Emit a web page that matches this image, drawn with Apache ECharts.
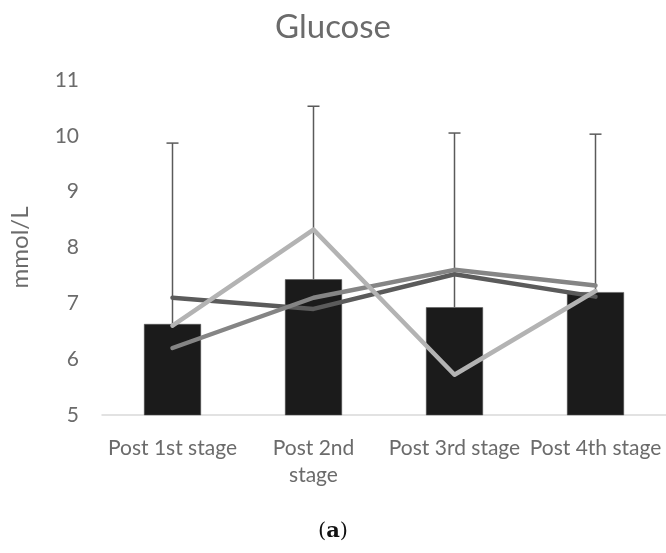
<!DOCTYPE html>
<html>
<head>
<meta charset="utf-8">
<script src="https://cdn.jsdelivr.net/npm/echarts@6/dist/echarts.min.js"></script>
<style>
  html, body { margin: 0; padding: 0; background: #fff; }
  #chart { width: 666px; height: 553px; }
</style>
</head>
<body>
<div id="chart"></div>
<script>
// Glucose after each stage: mean bars with upper SD whiskers, plus three individual traces
const categories = ['Post 1st stage', 'Post 2nd\nstage', 'Post 3rd stage', 'Post 4th stage'];
const meanValues = [6.63, 7.43, 6.93, 7.2];
const sdValues = [3.24, 3.1, 3.12, 2.83];
const traceA = [7.1, 6.9, 7.52, 7.12];
const traceB = [6.2, 7.1, 7.6, 7.32];
const traceC = [6.6, 8.32, 5.72, 7.22];
const yTicks = [5, 6, 7, 8, 9, 10, 11];

const textColor = '#6b6b6b';
const fontFamily = 'Lato, "Open Sans", sans-serif';

const chart = echarts.init(document.getElementById('chart'), null, { renderer: 'canvas' });

const errorData = meanValues.map((m, i) => [i, m, m + sdValues[i]]);

chart.setOption({
  animation: false,
  title: {
    text: 'Glucose',
    left: 'center',
    top: 6,
    textStyle: { color: textColor, fontFamily, fontSize: 33, fontWeight: 'normal' }
  },
  graphic: [{
    type: 'text',
    left: 'center',
    top: 521,
    style: {
      rich: {
        p: { fontFamily: '"DejaVu Serif", serif', fontSize: 21, fill: '#111' },
        b: { fontFamily: '"DejaVu Serif", serif', fontSize: 21, fontWeight: 'bold', fill: '#111' }
      },
      text: '{p|(}{b|a}{p|)}'
    }
  }],
  grid: { left: 95, right: 0, top: 80, bottom: 138 },
  xAxis: {
    type: 'category',
    data: categories,
    axisTick: { show: false },
    axisLine: { lineStyle: { color: '#d9d9d9', width: 1.5 } },
    axisLabel: { color: textColor, fontFamily, fontSize: 21, margin: 20, interval: 0, lineHeight: 27 }
  },
  yAxis: {
    type: 'value',
    min: yTicks[0],
    max: yTicks[yTicks.length - 1],
    interval: 1,
    name: 'mmol/L',
    nameLocation: 'middle',
    nameGap: 70,
    nameTextStyle: { color: textColor, fontFamily, fontSize: 24 },
    splitLine: { show: false },
    axisLine: { show: false },
    axisTick: { show: false },
    axisLabel: { color: textColor, fontFamily, fontSize: 21, margin: 23 }
  },
  series: [
    {
      type: 'bar',
      data: meanValues,
      barWidth: 57,
      itemStyle: { color: '#1b1b1b', borderColor: '#555', borderWidth: 0.5 },
      z: 1
    },
    {
      type: 'custom',
      data: errorData,
      z: 2,
      renderItem(params, api) {
        const x = api.coord([api.value(0), api.value(1)])[0];
        const yBase = api.coord([api.value(0), api.value(1)])[1];
        const yTop = api.coord([api.value(0), api.value(2)])[1];
        const style = { stroke: '#5a5a5a', lineWidth: 1.5 };
        return {
          type: 'group',
          children: [
            { type: 'line', shape: { x1: x, y1: yBase, x2: x, y2: yTop }, style },
            { type: 'line', shape: { x1: x - 6, y1: yTop, x2: x + 6, y2: yTop }, style }
          ]
        };
      }
    },
    {
      type: 'line', data: traceA, symbol: 'none', z: 3,
      lineStyle: { color: '#5b5b5b', width: 4.5, cap: 'round', join: 'round' }
    },
    {
      type: 'line', data: traceB, symbol: 'none', z: 4,
      lineStyle: { color: '#858585', width: 4.5, cap: 'round', join: 'round' }
    },
    {
      type: 'line', data: traceC, symbol: 'none', z: 5,
      lineStyle: { color: '#b3b3b3', width: 4.5, cap: 'round', join: 'round' }
    }
  ]
});
</script>
</body>
</html>
